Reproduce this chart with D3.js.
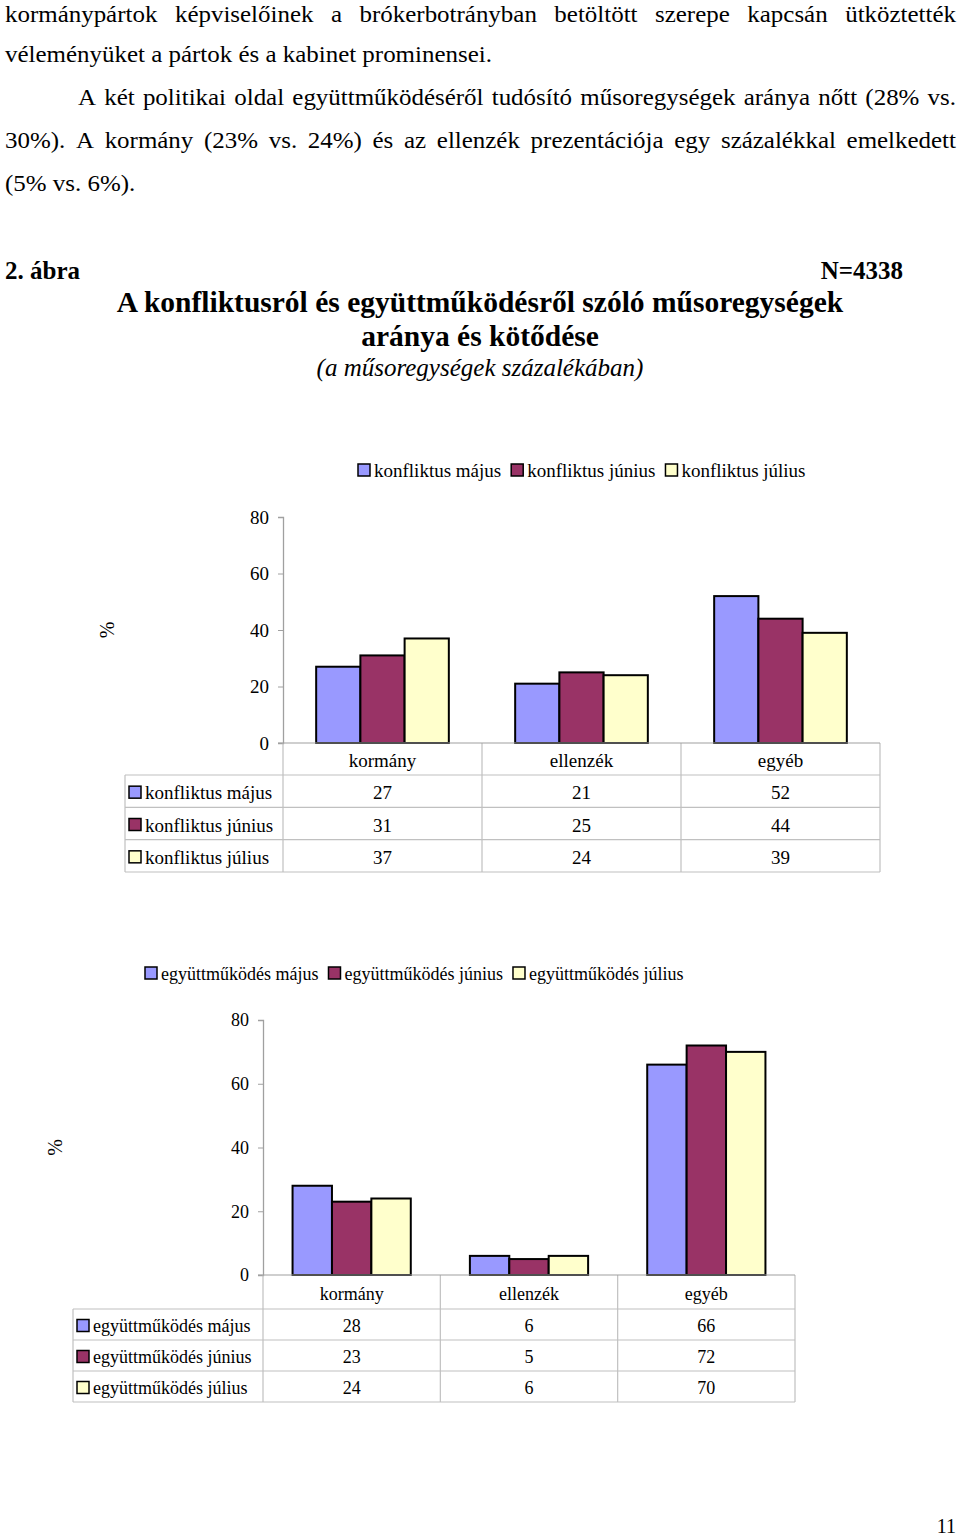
<!DOCTYPE html>
<html>
<head>
<meta charset="utf-8">
<script src="https://cdn.jsdelivr.net/npm/d3@7"></script>
<style>
  html, body { margin: 0; padding: 0; background: #fff; }
  svg { display: block; font-family: "Liberation Serif", "Times New Roman", serif; }
</style>
</head>
<body>
<div id="chart"></div>
<script>
"use strict";

// chart data
const categories = ["kormány", "ellenzék", "egyéb"];
const months = ["május", "június", "július"];
const konfliktusValues = [
  [27, 21, 52],   // május
  [31, 25, 44],   // június
  [37, 24, 39]    // július
];
const egyuttmukodesValues = [
  [28, 6, 66],
  [23, 5, 72],
  [24, 6, 70]
];
const yTicks = [0, 20, 40, 60, 80];
const seriesColors = ["#9999ff", "#993366", "#ffffcc"];

const bodyLines = [
  "kormánypártok képviselőinek a brókerbotrányban betöltött szerepe kapcsán ütköztették",
  "véleményüket a pártok és a kabinet prominensei.",
  "A két politikai oldal együttműködéséről tudósító műsoregységek aránya nőtt (28% vs.",
  "30%). A kormány (23% vs. 24%) és az ellenzék prezentációja egy százalékkal emelkedett",
  "(5% vs. 6%)."
];

const W = 960, H = 1537;
let svg = d3.select("#chart").append("svg")
  .attr("width", W).attr("height", H)
  .attr("viewBox", "0 0 " + W + " " + H);
svg.append("rect").attr("width", W).attr("height", H).attr("fill", "#fff");

// body text is a bit wider than plain Times, so stretch it slightly
const bodyStretch = 1.04;
let body = svg.append("g")
  .attr("transform", "scale(" + bodyStretch + ",1)")
  .attr("font-size", 24);

// justified lines are spread word by word
function textLine(str, x0, x1, y, justify) {
  x0 /= bodyStretch;
  x1 /= bodyStretch;
  if(!justify) {
    body.append("text").attr("x", x0).attr("y", y).text(str);
    return;
  }
  let words = str.split(" ");
  let nodes = words.map(w => body.append("text").attr("y", y).text(w));
  let widths = nodes.map(n => n.node().getComputedTextLength());
  let gap = (x1 - x0 - d3.sum(widths)) / (words.length - 1);
  let x = x0;
  nodes.forEach(function(n, i) {
    n.attr("x", x);
    x += widths[i] + gap;
  });
}
textLine(bodyLines[0], 5, 956, 21.5, true);
textLine(bodyLines[1], 5, 956, 62, false);
textLine(bodyLines[2], 78, 956, 105, true);
textLine(bodyLines[3], 5, 956, 148, true);
textLine(bodyLines[4], 5, 956, 191, false);

// figure heading
svg.append("text").attr("x", 5).attr("y", 279)
  .attr("font-size", 25).attr("font-weight", "bold").text("2. ábra");
svg.append("text").attr("x", 903).attr("y", 279).attr("text-anchor", "end")
  .attr("font-size", 25).attr("font-weight", "bold").text("N=4338");
svg.append("text").attr("x", 480).attr("y", 312).attr("text-anchor", "middle")
  .attr("font-size", 29.5).attr("font-weight", "bold")
  .text("A konfliktusról és együttműködésről szóló műsoregységek");
svg.append("text").attr("x", 480).attr("y", 346).attr("text-anchor", "middle")
  .attr("font-size", 29.5).attr("font-weight", "bold").text("aránya és kötődése");
svg.append("text").attr("x", 480).attr("y", 376).attr("text-anchor", "middle")
  .attr("font-size", 25).attr("font-style", "italic").text("(a műsoregységek százalékában)");

// bar chart with data table underneath
function drawPanel(o) {
  let g = svg.append("g").attr("font-size", o.fontSize);
  let names = months.map(m => o.prefix + " " + m);

  let y = d3.scaleLinear().domain([0, 80]).range([o.y0, o.yTop]);
  let x = d3.scaleBand().domain(categories).range([o.left, o.right]);
  let xs = d3.scaleBand().domain(d3.range(months.length))
    .range([0, x.bandwidth()]).paddingInner(0).paddingOuter(0.75);
  let rows = d3.scaleBand().domain(d3.range(months.length))
    .range([o.headBottom, o.bottom]);

  // y axis
  let yAxis = d3.axisLeft(y).tickValues(yTicks).tickSize(5).tickPadding(9);
  let ya = g.append("g").attr("transform", "translate(" + o.left + ",0)").call(yAxis);
  ya.select(".domain").attr("stroke", "#a0a0a0").attr("stroke-width", 1.3);
  ya.selectAll(".tick line").attr("stroke", "#a0a0a0");
  ya.selectAll(".tick text").attr("font-size", o.fontSize).attr("fill", "#000")
    .attr("font-family", "Liberation Serif");

  g.append("text")
    .attr("transform", "translate(" + o.titleX + "," + y(40) + ") rotate(-90)")
    .attr("text-anchor", "middle").attr("dy", "0.35em").attr("font-size", 20).text("%");

  // bars
  let grp = g.selectAll(".cat").data(categories).enter().append("g")
    .attr("transform", c => "translate(" + x(c) + ",0)");
  grp.selectAll("rect")
    .data((c, ci) => o.values.map((s, si) => ({ si: si, v: s[ci] })))
    .enter().append("rect")
    .attr("x", d => xs(d.si))
    .attr("width", xs.bandwidth())
    .attr("y", d => y(d.v))
    .attr("height", d => y(0) - y(d.v))
    .attr("fill", d => seriesColors[d.si])
    .attr("stroke", "#000").attr("stroke-width", 2);

  // table grid
  let grid = g.append("g").attr("stroke", "#c0c0c0").attr("stroke-width", 1.2);
  let vx = categories.map(c => x(c)).concat([o.right]);
  vx.forEach(vv => grid.append("line")
    .attr("x1", vv).attr("x2", vv).attr("y1", o.y0).attr("y2", o.bottom));
  grid.append("line").attr("x1", o.tableLeft).attr("x2", o.tableLeft)
    .attr("y1", o.headBottom).attr("y2", o.bottom);
  let hy = rows.domain().map(r => rows(r)).concat([o.bottom]);
  hy.forEach(hh => grid.append("line")
    .attr("x1", o.tableLeft).attr("x2", o.right).attr("y1", hh).attr("y2", hh));
  grid.append("line").attr("x1", o.left - 5).attr("x2", o.right)
    .attr("y1", o.y0).attr("y2", o.y0).attr("stroke", "#a0a0a0");

  // category headers
  g.selectAll(".cathead").data(categories).enter().append("text")
    .attr("x", c => x(c) + x.bandwidth() / 2)
    .attr("y", (o.y0 + o.headBottom) / 2 + 1).attr("dy", "0.38em")
    .attr("text-anchor", "middle").text(c => c);

  // table rows
  o.values.forEach(function(s, si) {
    let cy = rows(si) + rows.bandwidth() / 2 + 1;
    g.append("rect").attr("x", o.tableLeft + 4).attr("y", cy - 6)
      .attr("width", 12).attr("height", 12)
      .attr("fill", seriesColors[si]).attr("stroke", "#000").attr("stroke-width", 1.5);
    g.append("text").attr("x", o.tableLeft + 20).attr("y", cy).attr("dy", "0.38em")
      .text(names[si]);
    g.selectAll(null).data(s).enter().append("text")
      .attr("x", (v, ci) => x(categories[ci]) + x.bandwidth() / 2)
      .attr("y", cy).attr("dy", "0.38em").attr("text-anchor", "middle")
      .text(v => v);
  });

  // legend
  let lx = o.legendX;
  names.forEach(function(n, i) {
    g.append("rect").attr("x", lx).attr("y", o.legendY - 6)
      .attr("width", 12).attr("height", 12)
      .attr("fill", seriesColors[i]).attr("stroke", "#000").attr("stroke-width", 1.5);
    let t = g.append("text").attr("x", lx + 16).attr("y", o.legendY).attr("dy", "0.38em").text(n);
    lx += 16 + t.node().getComputedTextLength() + 10;
  });
}

drawPanel({
  prefix: "konfliktus", values: konfliktusValues, fontSize: 19,
  left: 283, right: 880, y0: 743, yTop: 517,
  headBottom: 775, bottom: 872, tableLeft: 125,
  titleX: 107, legendX: 358, legendY: 470
});

drawPanel({
  prefix: "együttműködés", values: egyuttmukodesValues, fontSize: 18,
  left: 263, right: 795, y0: 1275, yTop: 1020,
  headBottom: 1309, bottom: 1402, tableLeft: 73,
  titleX: 55, legendX: 145, legendY: 973
});

svg.append("text").attr("x", 956).attr("y", 1533).attr("text-anchor", "end")
  .attr("font-size", 20).text("11");
</script>
</body>
</html>
